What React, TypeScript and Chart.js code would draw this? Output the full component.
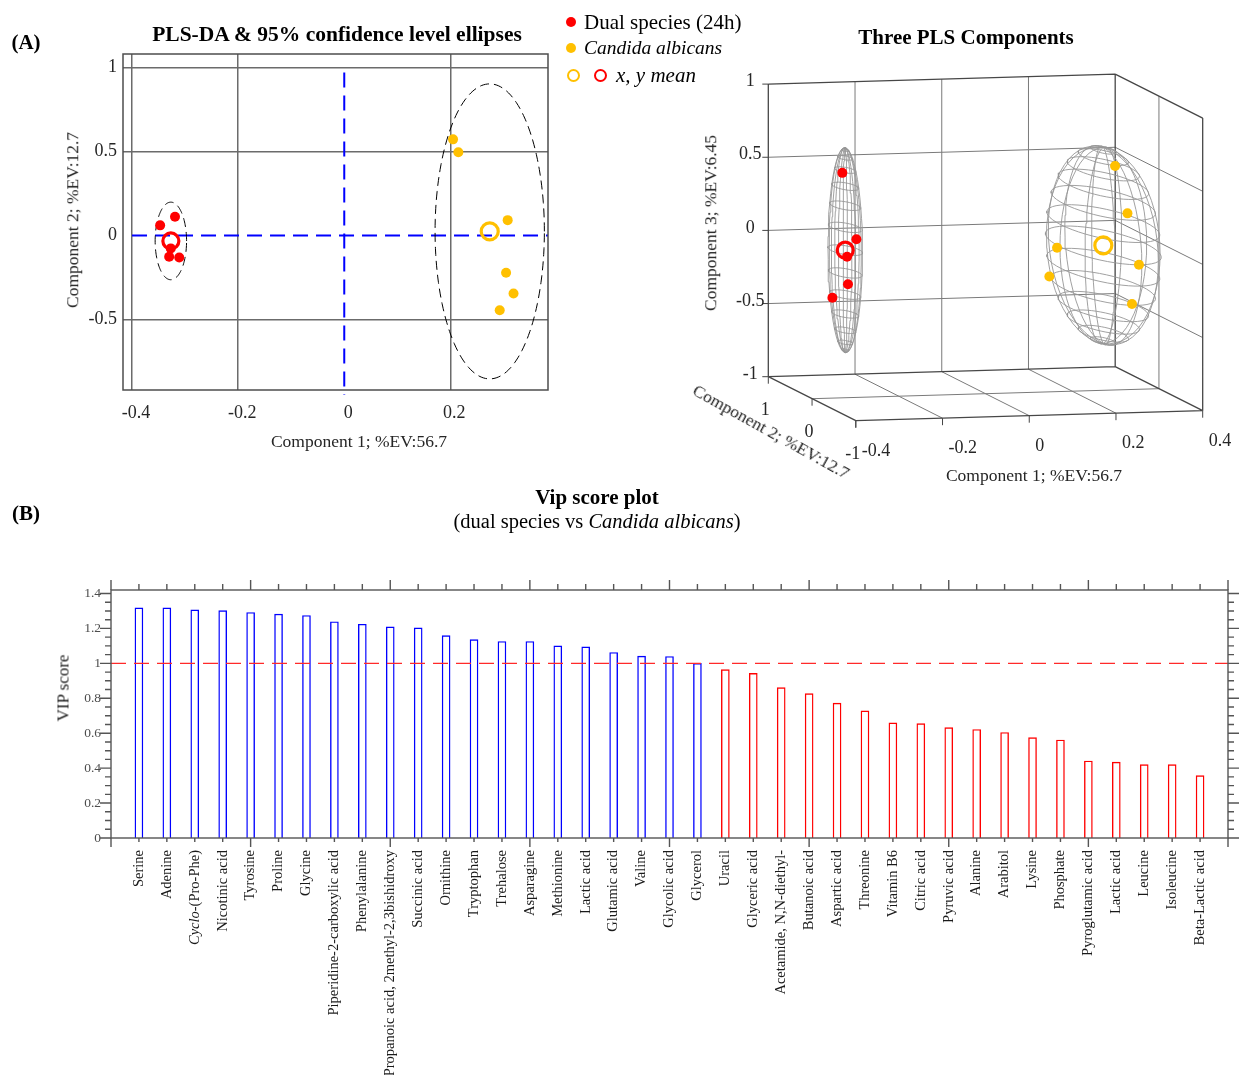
import React, { useEffect, useRef } from 'react';
import { Chart, registerables } from 'chart.js';

Chart.register(...registerables);

const SERIF = '"Liberation Serif", "Times New Roman", serif';
const RED = '#ff0000';
const GOLD = '#ffc000';
const BLUE = '#0000ff';

// PLS-DA scores of each sample on components 1, 2 and 3
const dualComp1 = [-0.347, -0.319, -0.327, -0.33, -0.311];
const dualComp2 = [0.06, 0.111, -0.077, -0.127, -0.131];
const dualComp3 = [-0.323, 0.52, -0.024, -0.205, 0.102];
const candidaComp1 = [0.205, 0.215, 0.308, 0.305, 0.319, 0.293];
const candidaComp2 = [0.572, 0.495, 0.091, -0.222, -0.346, -0.445];
const candidaComp3 = [-0.303, -0.095, 0.516, 0.24, -0.094, -0.345];

// 95% confidence regions: ellipse semi-axes (comp 1, 2) and ellipsoid semi-axes (comp 1, 2, 3)
const dualEllipse = [0.0296, 0.231];
const candidaEllipse = [0.103, 0.878];
const dualEllipsoid = [0.032, 0.24, 0.7];
const candidaEllipsoid = [0.1, 0.88, 0.67];

// 2-D score plot axes
const scoreXRange = [-0.417, 0.384];
const scoreYRange = [-0.92, 1.08];
const scoreXTicks = [-0.4, -0.2, 0, 0.2];
const scoreYTicks = [-0.5, 0, 0.5, 1];
const zeroLineYSpan = [-0.95, 0.97];

// 3-D box axes
const box1Ticks = [-0.4, -0.2, 0, 0.2, 0.4];
const box2Ticks = [-1, 0, 1];
const box3Ticks = [-1, -0.5, 0, 0.5, 1];

// VIP scores
const vipNames = [
  'Serine', 'Adenine', 'Cyclo-(Pro-Phe)', 'Nicotinic acid', 'Tyrosine', 'Proline', 'Glycine',
  'Piperidine-2-carboxylic acid', 'Phenylalanine', 'Propanoic acid, 2methyl-2,3bishidroxy',
  'Succinic acid', 'Ornithine', 'Tryptophan', 'Trehalose', 'Asparagine', 'Methionine',
  'Lactic acid', 'Glutamic acid', 'Valine', 'Glycolic acid', 'Glycerol', 'Uracil',
  'Glyceric acid', 'Acetamide, N,N-diethyl-', 'Butanoic acid', 'Aspartic acid', 'Threonine',
  'Vitamin B6', 'Citric acid', 'Pyruvic acid', 'Alanine', 'Arabitol', 'Lysine', 'Phosphate',
  'Pyroglutamic acid', 'Lactic acid', 'Leucine', 'Isoleucine', 'Beta-Lactic acid',
];
const vipScores = [
  1.318, 1.318, 1.306, 1.302, 1.291, 1.282, 1.274, 1.238, 1.224, 1.209, 1.203, 1.159, 1.136,
  1.125, 1.125, 1.1, 1.094, 1.062, 1.041, 1.039, 1.0, 0.964, 0.943, 0.861, 0.827, 0.772, 0.728,
  0.659, 0.655, 0.632, 0.621, 0.604, 0.575, 0.561, 0.441, 0.434, 0.42, 0.42, 0.357,
];
const vipYTicks = [0, 0.2, 0.4, 0.6, 0.8, 1, 1.2, 1.4];
const vipYMax = 1.42;
const VIP_CUTOFF = 1;
const italicPrefix: Record<string, string> = { 'Cyclo-(Pro-Phe)': 'Cyclo' };

const mean = (a: number[]) => a.reduce((s, v) => s + v, 0) / a.length;
const pairs = (a: number[], b: number[]) => a.map((v, i) => ({ x: v, y: b[i] }));

function ellipsePath(c: { x: number; y: number }, r: number[]) {
  const pts = [];
  for (let i = 0; i <= 160; i++) {
    const t = (2 * Math.PI * i) / 160;
    pts.push({ x: c.x + r[0] * Math.cos(t), y: c.y + r[1] * Math.sin(t) });
  }
  return pts;
}

const noPlugins = { legend: { display: false }, tooltip: { enabled: false } };

// ---------- 2-D PLS-DA score plot ----------
function scoreConfig(): any {
  const dMean = { x: mean(dualComp1), y: mean(dualComp2) };
  const cMean = { x: mean(candidaComp1), y: mean(candidaComp2) };
  const line = (data: any[], color: string, width: number, dash: number[], order: number, clip?: any) => ({
    data, showLine: true, borderColor: color, borderWidth: width, borderDash: dash,
    pointRadius: 0, fill: false, order, clip,
  });
  const frame = {
    id: 'frame',
    afterDraw(chart: any) {
      const { ctx, chartArea: a } = chart;
      ctx.save();
      ctx.strokeStyle = '#4d4d4d';
      ctx.lineWidth = 1.5;
      ctx.strokeRect(a.left, a.top, a.right - a.left, a.bottom - a.top);
      ctx.restore();
    },
  };
  const gridColor = (c: any) => (c.tick && c.tick.value === 0 ? 'rgba(0,0,0,0)' : '#6b6b6b');
  return {
    type: 'scatter',
    data: {
      datasets: [
        { data: pairs(dualComp1, dualComp2), backgroundColor: RED, borderWidth: 0, pointRadius: 5, order: 1 },
        { data: pairs(candidaComp1, candidaComp2), backgroundColor: GOLD, borderWidth: 0, pointRadius: 5, order: 1 },
        { data: [dMean], backgroundColor: 'rgba(0,0,0,0)', borderColor: RED, borderWidth: 3.2, pointRadius: 8, order: 2 },
        { data: [cMean], backgroundColor: 'rgba(0,0,0,0)', borderColor: GOLD, borderWidth: 3.2, pointRadius: 8.5, order: 2 },
        line(ellipsePath(dMean, dualEllipse), '#000', 1, [9, 5], 3),
        line(ellipsePath(cMean, candidaEllipse), '#000', 1, [9, 5], 3),
        line([{ x: scoreXTicks[0], y: 0 }, { x: scoreXRange[1], y: 0 }], BLUE, 2, [15, 8], 4),
        line([{ x: 0, y: zeroLineYSpan[1] }, { x: 0, y: zeroLineYSpan[0] }], BLUE, 2, [15, 8], 4, false),
      ],
    },
    options: {
      responsive: false, animation: false, devicePixelRatio: 1,
      layout: { padding: { top: 54, right: 12, left: 0, bottom: 0 }, autoPadding: false },
      plugins: noPlugins,
      scales: {
        x: {
          type: 'linear', min: scoreXRange[0], max: scoreXRange[1],
          afterBuildTicks: (s: any) => { s.ticks = scoreXTicks.map((value) => ({ value })); },
          afterFit: (s: any) => { s.height = 70; },
          ticks: { font: { family: SERIF, size: 18 }, color: '#262626', padding: 12, labelOffset: 4, maxRotation: 0, autoSkip: false, callback: (v: any) => String(v) },
          grid: { color: gridColor, lineWidth: 1.5, drawTicks: false },
          border: { display: false },
        },
        y: {
          type: 'linear', min: scoreYRange[0], max: scoreYRange[1],
          afterBuildTicks: (s: any) => { s.ticks = scoreYTicks.map((value) => ({ value })); },
          afterFit: (s: any) => { s.width = 123; },
          ticks: { font: { family: SERIF, size: 18 }, color: '#262626', padding: 6, autoSkip: false, callback: (v: any) => String(v) },
          grid: { color: gridColor, lineWidth: 1.5, drawTicks: false },
          border: { display: false },
        },
      },
    },
    plugins: [frame],
  };
}

// ---------- 3-D view of the three components ----------
// Screen offset (canvas px) of the origin and per unit of each component.
const VIEW = { ox: 425.5, oy: 247.4, e1: [433.6, -12.5], e2: [-43.75, -22], e3: [0, -146.3] };
const project = (a: number, b: number, c: number) => ({
  x: VIEW.ox + VIEW.e1[0] * a + VIEW.e2[0] * b + VIEW.e3[0] * c,
  y: VIEW.oy + VIEW.e1[1] * a + VIEW.e2[1] * b + VIEW.e3[1] * c,
});

function boxConfig(): any {
  const GAP = { x: NaN, y: NaN };
  const [x0, x1] = [box1Ticks[0], box1Ticks[box1Ticks.length - 1]];
  const [y0, y1] = [box2Ticks[0], box2Ticks[box2Ticks.length - 1]];
  const [z0, z1] = [box3Ticks[0], box3Ticks[box3Ticks.length - 1]];
  const segs = (list: number[][][]) =>
    list.flatMap(([a, b]) => [project(a[0], a[1], a[2]), project(b[0], b[1], b[2]), GAP]);

  const edges = segs([
    [[x0, y1, z0], [x0, y1, z1]],
    [[x0, y1, z1], [x1, y1, z1]],
    [[x1, y1, z1], [x1, y0, z1]],
    [[x1, y0, z1], [x1, y0, z0]],
    [[x1, y1, z1], [x1, y1, z0]],
    [[x0, y1, z0], [x1, y1, z0]],
    [[x0, y1, z0], [x0, y0, z0]],
    [[x0, y0, z0], [x1, y0, z0]],
    [[x1, y1, z0], [x1, y0, z0]],
  ]);
  const inner1 = box1Ticks.slice(1, -1);
  const inner2 = box2Ticks.slice(1, -1);
  const inner3 = box3Ticks.slice(1, -1);
  const grid = segs([
    ...inner1.map((v) => [[v, y1, z0], [v, y1, z1]]),
    ...inner3.map((v) => [[x0, y1, v], [x1, y1, v]]),
    ...inner3.map((v) => [[x1, y1, v], [x1, y0, v]]),
    ...inner2.map((v) => [[x1, v, z0], [x1, v, z1]]),
    ...inner1.map((v) => [[v, y1, z0], [v, y0, z0]]),
    ...inner2.map((v) => [[x0, v, z0], [x1, v, z0]]),
  ]);

  // wireframe ellipsoid: latitude rings and meridians
  const mesh = (c: number[], r: number[]) => {
    const nLat = 14;
    const nLon = 12;
    const surf = (th: number, ph: number) => project(
      c[0] + r[0] * Math.cos(th) * Math.cos(ph),
      c[1] + r[1] * Math.cos(th) * Math.sin(ph),
      c[2] + r[2] * Math.sin(th),
    );
    const out: any[] = [];
    for (let k = 1; k < nLat; k++) {
      const th = -Math.PI / 2 + (k * Math.PI) / nLat;
      for (let j = 0; j <= 48; j++) out.push(surf(th, (2 * Math.PI * j) / 48));
      out.push(GAP);
    }
    for (let j = 0; j < nLon; j++) {
      const ph = (2 * Math.PI * j) / nLon;
      for (let k = 0; k <= 2 * nLat; k++) out.push(surf(-Math.PI / 2 + (k * Math.PI) / (2 * nLat), ph));
      out.push(GAP);
    }
    return out;
  };

  const dCenter = [mean(dualComp1), mean(dualComp2), mean(dualComp3)];
  const cCenter = [mean(candidaComp1), mean(candidaComp2), mean(candidaComp3)];
  const cloud = (a: number[], b: number[], c: number[]) => a.map((v, i) => project(v, b[i], c[i]));
  const lineSet = (data: any[], color: string, width: number, order: number) => ({
    data, showLine: true, borderColor: color, borderWidth: width, pointRadius: 0, fill: false, order, spanGaps: false,
  });

  const tickLabels = {
    id: 'boxTicks',
    afterDraw(chart: any) {
      const { ctx, scales } = chart;
      const px = (p: any) => ({ x: scales.x.getPixelForValue(p.x), y: scales.y.getPixelForValue(p.y) });
      ctx.save();
      ctx.strokeStyle = '#444';
      ctx.lineWidth = 1;
      ctx.fillStyle = '#262626';
      ctx.font = `18px ${SERIF}`;
      ctx.textBaseline = 'middle';
      box3Ticks.forEach((v) => {
        const p = px(project(x0, y1, v));
        ctx.beginPath(); ctx.moveTo(p.x, p.y); ctx.lineTo(p.x - 6, p.y); ctx.stroke();
        ctx.textAlign = 'center';
        ctx.fillText(String(v), p.x - 18, p.y - 2.5);
      });
      box2Ticks.forEach((v) => {
        const p = px(project(x0, v, z0));
        ctx.beginPath(); ctx.moveTo(p.x, p.y); ctx.lineTo(p.x, p.y + 7); ctx.stroke();
        ctx.textAlign = 'center';
        ctx.fillText(String(v), p.x - 3, p.y + 33.5);
      });
      box1Ticks.forEach((v) => {
        const p = px(project(v, y0, z0));
        ctx.beginPath(); ctx.moveTo(p.x, p.y); ctx.lineTo(p.x, p.y + 7); ctx.stroke();
        ctx.textAlign = 'left';
        ctx.fillText(String(v), p.x + 6, p.y + 30.5);
      });
      ctx.restore();
    },
  };

  return {
    type: 'scatter',
    data: {
      datasets: [
        { data: cloud(dualComp1, dualComp2, dualComp3), backgroundColor: RED, borderWidth: 0, pointRadius: 5, order: 1 },
        { data: cloud(candidaComp1, candidaComp2, candidaComp3), backgroundColor: GOLD, borderWidth: 0, pointRadius: 5, order: 1 },
        { data: [project(dCenter[0], dCenter[1], dCenter[2])], backgroundColor: 'rgba(0,0,0,0)', borderColor: RED, borderWidth: 3.2, pointRadius: 8, order: 2 },
        { data: [project(cCenter[0], cCenter[1], cCenter[2])], backgroundColor: 'rgba(0,0,0,0)', borderColor: GOLD, borderWidth: 3.2, pointRadius: 8.5, order: 2 },
        lineSet(mesh(dCenter, dualEllipsoid), '#969696', 0.9, 3),
        lineSet(mesh(cCenter, candidaEllipsoid), '#969696', 0.9, 3),
        lineSet(grid, '#7a7a7a', 1, 5),
        lineSet(edges, '#474747', 1.3, 4),
      ],
    },
    options: {
      responsive: false, animation: false, devicePixelRatio: 1,
      layout: { padding: 0, autoPadding: false },
      plugins: noPlugins,
      scales: {
        x: { type: 'linear', display: false, min: 0, max: 679 },
        y: { type: 'linear', display: false, min: 0, max: 490, reverse: true },
      },
    },
    plugins: [tickLabels],
  };
}

// ---------- VIP score bar plot ----------
function vipConfig(): any {
  const xMax = vipNames.length + 1;
  const frame = {
    id: 'vipFrame',
    afterDraw(chart: any) {
      const { ctx, chartArea: a, scales } = chart;
      const { x, y } = scales;
      ctx.save();
      ctx.strokeStyle = '#555';
      ctx.lineWidth = 1.4;
      ctx.strokeRect(a.left, a.top, a.right - a.left, a.bottom - a.top);
      ctx.beginPath();
      for (let i = 0; i <= xMax; i++) {
        const px = x.getPixelForValue(i);
        const long = i % 5 === 0;
        ctx.moveTo(px, a.bottom); ctx.lineTo(px, a.bottom + (long ? 9 : 4));
        ctx.moveTo(px, a.top); ctx.lineTo(px, a.top - (long ? 10 : 6));
      }
      for (let k = 0; k * 0.05 <= vipYMax; k++) {
        const py = y.getPixelForValue(k * 0.05);
        const len = k % 4 === 0 ? 11 : 6;
        ctx.moveTo(a.left, py); ctx.lineTo(a.left - len, py);
        ctx.moveTo(a.right, py); ctx.lineTo(a.right + len, py);
      }
      ctx.stroke();

      ctx.fillStyle = '#1a1a1a';
      ctx.textBaseline = 'middle';
      const normal = `14.5px ${SERIF}`;
      const ital = `italic 14.5px ${SERIF}`;
      vipNames.forEach((name, i) => {
        const px = x.getPixelForValue(i + 1);
        ctx.save();
        ctx.translate(px, a.bottom + 12);
        ctx.rotate(-Math.PI / 2);
        const pre = italicPrefix[name];
        if (pre) {
          const rest = name.slice(pre.length);
          ctx.font = ital;
          const w1 = ctx.measureText(pre).width;
          ctx.font = normal;
          const w2 = ctx.measureText(rest).width;
          ctx.textAlign = 'left';
          ctx.font = ital;
          ctx.fillText(pre, -(w1 + w2), 0);
          ctx.font = normal;
          ctx.fillText(rest, -w2, 0);
        } else {
          ctx.font = normal;
          ctx.textAlign = 'right';
          ctx.fillText(name, 0, 0);
        }
        ctx.restore();
      });
      ctx.restore();
    },
  };
  return {
    type: 'bar',
    data: {
      datasets: [
        {
          type: 'line', data: [{ x: 0, y: VIP_CUTOFF }, { x: xMax, y: VIP_CUTOFF }],
          borderColor: '#ff2a2a', borderWidth: 1.1, borderDash: [15, 8], pointRadius: 0, fill: false, order: 0,
        },
        {
          type: 'bar', data: vipScores.map((v, i) => ({ x: i + 1, y: v })),
          backgroundColor: '#ffffff', borderColor: vipScores.map((v) => (v >= VIP_CUTOFF ? BLUE : RED)),
          borderWidth: 1.4, barThickness: 8, grouped: false, order: 1,
        },
      ],
    },
    options: {
      responsive: false, animation: false, devicePixelRatio: 1,
      layout: { padding: { top: 120, right: 11, left: 0, bottom: 0 }, autoPadding: false },
      plugins: noPlugins,
      scales: {
        x: {
          type: 'linear', min: 0, max: xMax, offset: false,
          afterBuildTicks: (s: any) => { s.ticks = vipNames.map((_, i) => ({ value: i + 1 })); },
          afterFit: (s: any) => { s.height = 237; },
          ticks: { display: false },
          grid: { display: false, drawTicks: false, offset: false },
          border: { display: false },
        },
        y: {
          type: 'linear', min: 0, max: vipYMax,
          afterBuildTicks: (s: any) => { s.ticks = vipYTicks.map((value) => ({ value })); },
          afterFit: (s: any) => { s.width = 111; },
          ticks: { font: { family: SERIF, size: 13.5 }, color: '#4d4d4d', padding: 10, autoSkip: false, callback: (v: any) => String(v) },
          grid: { display: false, drawTicks: false },
          border: { display: false },
        },
      },
    },
    plugins: [frame],
  };
}

function ChartCanvas({ left, top, width, height, config }: any) {
  const ref = useRef<HTMLCanvasElement>(null);
  useEffect(() => {
    const chart = new Chart(ref.current as HTMLCanvasElement, config());
    return () => chart.destroy();
  }, []);
  return (
    <canvas ref={ref} width={width} height={height}
      style={{ position: 'absolute', left, top, width, height }} />
  );
}

function Txt({ x, y, size, bold, italic, rotate = 0, align = 'center', color = '#000', children }: any) {
  const tx = align === 'center' ? '-50%' : '0';
  return (
    <div style={{
      position: 'absolute', left: x, top: y, transform: `translate(${tx}, -50%) rotate(${rotate}deg)`,
      fontSize: size, fontWeight: bold ? 700 : 400, fontStyle: italic ? 'italic' : 'normal',
      whiteSpace: 'nowrap', lineHeight: 1, color,
    }}>{children}</div>
  );
}

function Dot({ x, y, color, ring }: any) {
  const d = ring ? 13 : 10;
  return (
    <div style={{
      position: 'absolute', left: x - d / 2, top: y - d / 2, width: d, height: d, borderRadius: '50%',
      boxSizing: 'border-box', background: ring ? 'transparent' : color,
      border: ring ? `2.6px solid ${color}` : 'none',
    }} />
  );
}

export default function App() {
  return (
    <div style={{
      position: 'absolute', left: 0, top: 0, width: 1239, height: 1075, background: '#fff',
      fontFamily: SERIF, overflow: 'hidden',
    }}>
      <ChartCanvas left={0} top={0} width={560} height={460} config={scoreConfig} />
      <ChartCanvas left={560} top={0} width={679} height={490} config={boxConfig} />
      <ChartCanvas left={0} top={470} width={1239} height={605} config={vipConfig} />

      <Txt x={26} y={42} size={21} bold>(A)</Txt>
      <Txt x={337} y={35} size={21.5} bold>PLS-DA &amp; 95% confidence level ellipses</Txt>
      <Txt x={359} y={442} size={17.5} color="#262626">Component 1; %EV:56.7</Txt>
      <Txt x={73} y={220} size={17.5} rotate={-90} color="#262626">Component 2; %EV:12.7</Txt>

      <Dot x={571} y={22} color={RED} />
      <Txt x={584} y={22} size={21} align="left">Dual species (24h)</Txt>
      <Dot x={571} y={48} color={GOLD} />
      <Txt x={584} y={48} size={19.5} align="left" italic>Candida albicans</Txt>
      <Dot x={573} y={75} color={GOLD} ring />
      <Dot x={600} y={75} color={RED} ring />
      <Txt x={616} y={75} size={21} align="left" italic>x, y mean</Txt>

      <Txt x={966} y={37} size={21} bold>Three PLS Components</Txt>
      <Txt x={711} y={223} size={17.5} rotate={-90} color="#262626">Component 3; %EV:6.45</Txt>
      <Txt x={771} y={432} size={17.5} rotate={29} color="#262626">Component 2; %EV:12.7</Txt>
      <Txt x={1034} y={476} size={17.5} color="#262626">Component 1; %EV:56.7</Txt>

      <Txt x={26} y={513} size={21} bold>(B)</Txt>
      <Txt x={597} y={497} size={21} bold>Vip score plot</Txt>
      <Txt x={597} y={521} size={20.5}>(dual species vs <i>Candida albicans</i>)</Txt>
      <Txt x={63} y={688} size={17} rotate={-90} color="#1a1a1a">VIP score</Txt>
    </div>
  );
}
